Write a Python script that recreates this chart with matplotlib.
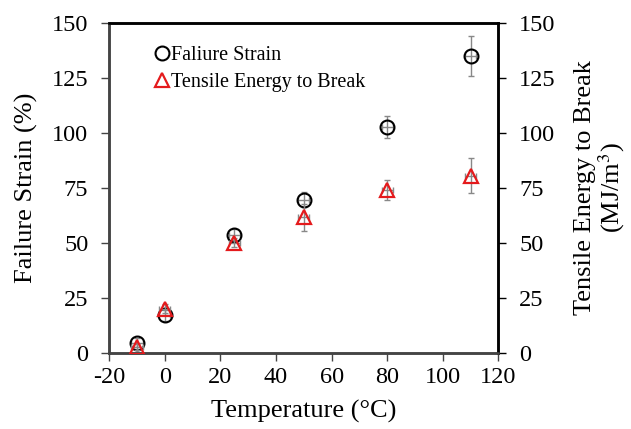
import matplotlib
matplotlib.use("Agg")
import matplotlib.pyplot as plt

plt.rcParams['font.family'] = ['Liberation Serif', 'DejaVu Serif']
plt.rcParams['mathtext.fontset'] = 'stix'
plt.rcParams['axes.unicode_minus'] = False

temperature = [-10, 0, 25, 50, 80, 110]
temp_err = [2, 2, 2, 2, 2, 2]
failure_strain = [4.5, 17, 53.5, 69.5, 102.5, 135]
strain_err = [2, 2.5, 2.5, 3.5, 5, 9]
energy = [2.5, 20, 50, 61.5, 74, 80.5]
energy_err = [1.5, 2, 2, 6, 4.5, 8]

fig = plt.figure(figsize=(6.31, 4.29), dpi=100)
ax = fig.add_axes([0.173, 0.178, 0.617, 0.769])
ax2 = ax.twinx()

ax.errorbar(temperature, failure_strain, yerr=strain_err, xerr=temp_err,
            fmt='none', ecolor='#888888', elinewidth=1, capsize=2, capthick=1, zorder=2)
ax.plot(temperature, failure_strain, 'o', mfc='none', mec='black', mew=1.5,
        ms=10, label='Faliure Strain', zorder=3)
ax2.errorbar(temperature, energy, yerr=energy_err, xerr=temp_err,
             fmt='none', ecolor='#888888', elinewidth=1, capsize=2, capthick=1, zorder=2)
ax2.plot(temperature, energy, '^', mfc='none', mec='#e41a1c', mew=1.6,
         ms=10, label='Tensile Energy to Break', zorder=3)

for a in (ax, ax2):
    a.set_ylim(0, 150)
    a.set_yticks([0, 25, 50, 75, 100, 125, 150])
    for s in a.spines.values():
        s.set_linewidth(1.8)
for a in (ax, ax2):
    a.spines['left'].set_color('#444444')
    a.spines['bottom'].set_color('#444444')
ax.set_xlim(-20, 120)
ax.set_xticks(range(-20, 121, 20))

ax.tick_params(axis='y', direction='out', labelsize=17.5, length=6, width=1,
               color='#444444', pad=9)
ax.tick_params(axis='x', direction='out', labelsize=17.5, length=6, width=1,
               color='#444444', pad=4)
ax2.tick_params(axis='y', direction='out', labelsize=17.5, length=6, width=1, pad=9)

ax.set_xlabel('Temperature (°C)', fontsize=19, labelpad=9)
ax.set_ylabel('Failure Strain (%)', fontsize=19, labelpad=10)
ax2.set_ylabel('Tensile Energy to Break\n(MJ/m$^3$)', fontsize=19, labelpad=13,
               linespacing=1.0)

h1, l1 = ax.get_legend_handles_labels()
h2, l2 = ax2.get_legend_handles_labels()
ax2.legend(h1 + h2, l1 + l2, loc='upper left', bbox_to_anchor=(0.09, 0.965),
           frameon=False, fontsize=14.5, handlelength=0.6, handletextpad=0.15,
           borderaxespad=0.2, labelspacing=0.35)

fig.savefig('out.png', dpi=100)
